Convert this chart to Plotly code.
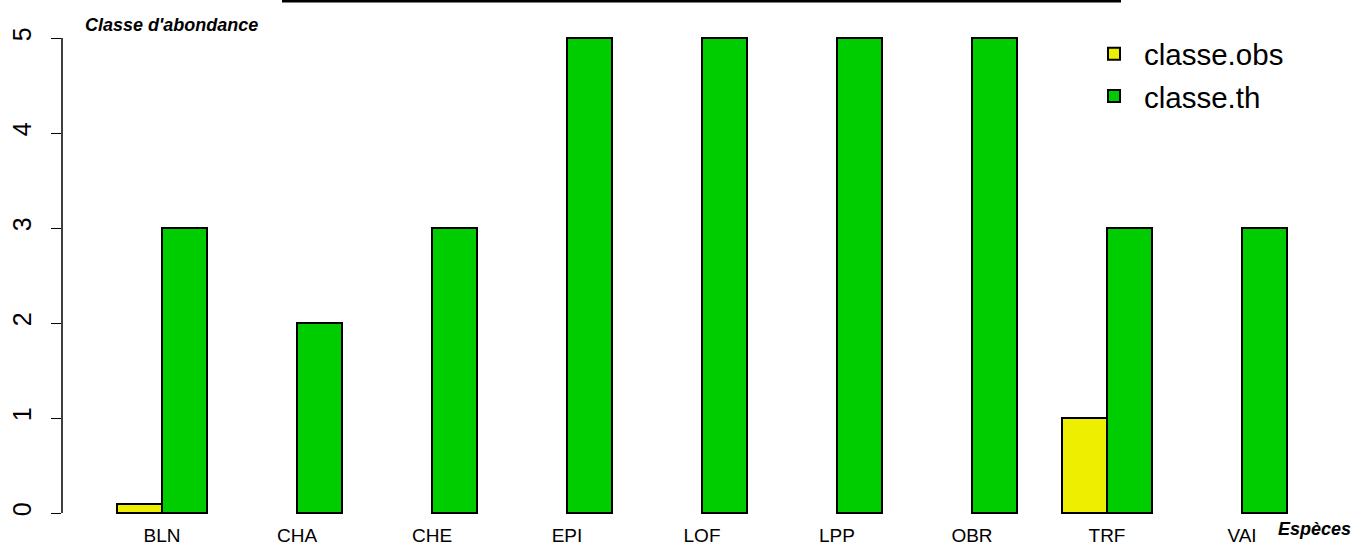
import plotly.graph_objects as go

especes = ["BLN", "CHA", "CHE", "EPI", "LOF", "LPP", "OBR", "TRF", "VAI"]
classe_obs = [0.1, None, None, None, None, None, None, 1, None]
classe_th = [3, 2, 3, 5, 5, 5, 5, 3, 3]
y_ticks = [0, 1, 2, 3, 4, 5]

# R barplot(beside=TRUE) layout: each group = 2 bars of width 1 + 1 space
idx = list(range(len(especes)))
x_obs = [3 * i + 1.5 for i in idx]
x_th = [3 * i + 2.5 for i in idx]
x_lab = [3 * i + 2 for i in idx]

FONT = "Liberation Sans, Arial, sans-serif"
W, H = 1357, 545
# desired plot area in window pixels
PL, PR, PT, PB = 62, 1332, 18, 517
L, T = PL, PT
R, B = W - PR, H - PB
plot_w = PR - PL
plot_h = PB - PT


def px(xw):
    return (xw - PL) / plot_w


def py(yw):
    return (PB - yw) / plot_h


fig = go.Figure()
fig.add_trace(go.Bar(x=x_obs, y=classe_obs, width=1, name="classe.obs", legendgroup="a",
                     marker=dict(color="#EEEE00", line=dict(color="black", width=2))))
fig.add_trace(go.Bar(x=x_th, y=classe_th, width=1, name="classe.th", legendgroup="b",
                     marker=dict(color="#00CD00", line=dict(color="black", width=2))))

x0 = 1 - (117 - PL) / 45
x1 = x0 + plot_w / 45
y0 = -(PB - 513) / 95
y1 = y0 + plot_h / 95

fig.update_layout(
    width=W, height=H,
    margin=dict(l=L, r=R, t=T, b=B, autoexpand=False),
    paper_bgcolor="white", plot_bgcolor="white",
    font=dict(family=FONT, color="black"),
    barmode="overlay",
    bargap=0,
    showlegend=True,
    legend=dict(x=px(1084), y=py(28), xanchor="left", yanchor="top",
                font=dict(size=29.5, family=FONT), bgcolor="rgba(0,0,0,0)",
                itemwidth=50, tracegroupgap=1),
    xaxis=dict(range=[x0, x1], tickvals=x_lab, ticktext=especes, showgrid=False,
               zeroline=False, showline=False, ticks="", tickfont=dict(size=19),
               ticklabelstandoff=5, automargin=False),
    yaxis=dict(range=[y0, y1], tickvals=y_ticks, showgrid=False, zeroline=False,
               showline=False, ticks="outside", ticklen=10, tickwidth=1, tickcolor="black",
               tickangle=-90, tickfont=dict(size=25), ticklabelstandoff=10, automargin=False),
    shapes=[
        dict(type="line", xref="paper", yref="y", x0=0, x1=0, y0=0, y1=5,
             line=dict(color="black", width=1.5)),
        dict(type="line", xref="paper", yref="paper",
             x0=px(282), x1=px(1121), y0=py(0.5), y1=py(0.5),
             line=dict(color="black", width=4)),
    ],
    annotations=[
        dict(text="<b><i>Classe d'abondance</i></b>", xref="paper", yref="paper",
             x=px(83), y=py(25), xanchor="left", yanchor="middle",
             showarrow=False, font=dict(size=18, family=FONT)),
        dict(text="<b><i>Espèces</i></b>", xref="paper", yref="paper",
             x=px(1353), y=py(529), xanchor="right", yanchor="middle",
             showarrow=False, font=dict(size=18, family=FONT)),
    ],
)

fig.write_html("out.html", config={"displayModeBar": False},
               post_script="document.body.style.margin='0';document.body.style.overflow='hidden';")
